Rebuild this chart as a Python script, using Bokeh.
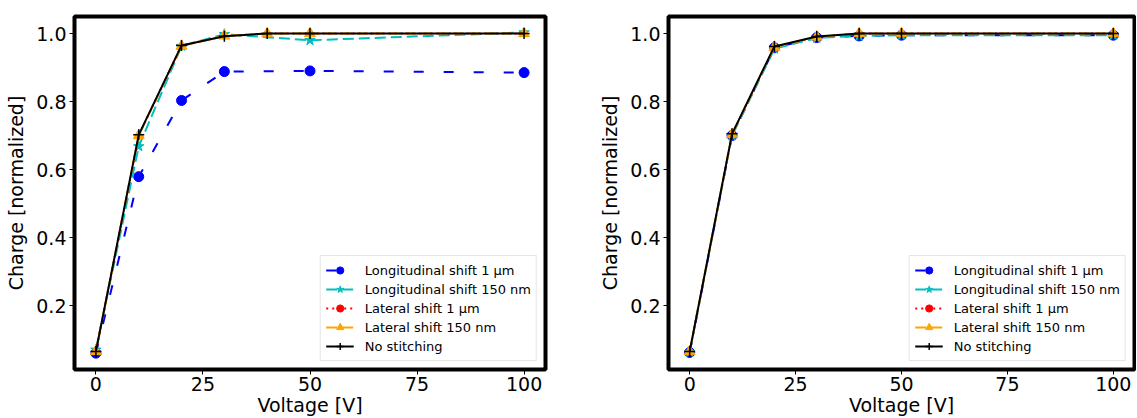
from bokeh.plotting import figure
from bokeh.models import Range1d, FixedTicker, Legend, PrintfTickFormatter
from bokeh.layouts import row
from bokeh.embed import file_html
from bokeh.resources import INLINE

# ---- data ----
voltage = [0, 10, 20, 30, 40, 50, 100]
voltage_long_left = [0, 10, 20, 30, 50, 100]

labels = ["Longitudinal shift 1 µm", "Longitudinal shift 150 nm",
          "Lateral shift 1 µm", "Lateral shift 150 nm", "No stitching"]

left_long1 = [0.060, 0.579, 0.803, 0.888, 0.890, 0.885]
left_long150 = [0.070, 0.668, 0.963, 0.998, 0.980, 1.003]
left_lat1 = [0.065, 0.700, 0.965, 0.992, 1.000, 1.000, 1.000]
left_lat150 = [0.065, 0.700, 0.963, 0.993, 1.000, 1.000, 1.000]
left_nostitch = [0.065, 0.702, 0.965, 0.992, 1.000, 1.000, 1.000]

right_long1 = [0.062, 0.700, 0.958, 0.988, 0.993, 0.995, 0.995]
right_long150 = [0.063, 0.700, 0.955, 0.987, 0.993, 0.995, 0.995]
right_lat1 = [0.065, 0.703, 0.960, 0.990, 1.000, 1.000, 1.000]
right_lat150 = [0.065, 0.703, 0.960, 0.990, 1.000, 1.000, 1.000]
right_nostitch = [0.065, 0.705, 0.962, 0.991, 1.000, 1.000, 1.000]

x_ticks = [0, 25, 50, 75, 100]
y_ticks = [0.2, 0.4, 0.6, 0.8, 1.0]

FONT = "DejaVu Sans"
CYAN = "#00bfbf"
ORANGE = "#ffa500"


def make_fig(width, mbl, mbr, series):
    p = figure(width=width, height=418, output_backend="svg", toolbar_location=None,
               x_range=Range1d(-5, 105), y_range=Range1d(0.012, 1.05),
               min_border_left=mbl, min_border_right=mbr, min_border_top=16,
               min_border_bottom=0)
    p.grid.visible = False
    p.outline_line_color = "black"
    p.outline_line_width = 4
    p.background_fill_color = "white"
    p.border_fill_color = "white"
    for ax in (p.xaxis[0], p.yaxis[0]):
        ax.axis_line_color = None
        ax.major_tick_in = 0
        ax.major_tick_out = 5
        ax.major_tick_line_width = 1
        ax.minor_tick_line_color = None
        ax.major_label_text_font = FONT
        ax.major_label_text_font_size = "19px"
        ax.major_label_text_color = "black"
        ax.axis_label_text_font = FONT
        ax.axis_label_text_font_size = "19px"
        ax.axis_label_text_font_style = "normal"
        ax.axis_label_text_color = "black"
    p.xaxis.ticker = FixedTicker(ticks=x_ticks)
    p.yaxis.ticker = FixedTicker(ticks=y_ticks)
    p.yaxis.formatter = PrintfTickFormatter(format="%.1f")
    p.xaxis.major_label_standoff = 2
    p.xaxis.axis_label_standoff = 0
    p.yaxis.major_label_standoff = 3
    p.yaxis.axis_label_standoff = 6
    p.xaxis.axis_label = "Voltage [V]"
    p.yaxis.axis_label = "Charge [normalized]"

    (xl, l1, l150, lat1, lat150, nos) = series
    items = []
    r1 = p.line(xl, l1, line_color="blue", line_width=2, line_dash="10 20")
    m1 = p.scatter(xl, l1, marker="circle", size=10, fill_color="blue", line_color="blue")
    items.append((labels[0], [r1, m1]))
    r2 = p.line(xl, l150, line_color=CYAN, line_width=2, line_dash="11 5")
    m2 = p.scatter(xl, l150, marker="star", size=11,
                   fill_color=CYAN, line_color=CYAN)
    items.append((labels[1], [r2, m2]))
    r3 = p.line(voltage, lat1, line_color="red", line_width=2, line_dash=[2, 4])
    m3 = p.scatter(voltage, lat1, marker="circle", size=5, fill_color="red", line_color="red")
    items.append((labels[2], [r3, m3]))
    r4 = p.line(voltage, lat150, line_color=ORANGE, line_width=2, line_dash="11 5")
    m4 = p.scatter(voltage, lat150, marker="triangle", size=11, fill_color=ORANGE,
                   line_color=ORANGE)
    items.append((labels[3], [r4, m4]))
    r5 = p.line(voltage, nos, line_color="black", line_width=2)
    m5 = p.scatter(voltage, nos, marker="cross", size=11, line_color="black", line_width=1.5)
    items.append((labels[4], [r5, m5]))

    legend = Legend(items=items, location="bottom_right",
                    label_text_font=FONT, label_text_font_size="13px",
                    label_text_color="black",
                    glyph_width=28, glyph_height=18, spacing=1,
                    label_standoff=11, padding=5, margin=8,
                    border_line_color="#cccccc", border_line_width=1,
                    background_fill_alpha=0.85)
    p.add_layout(legend)
    return p


p1 = make_fig(555, 74, 10, (voltage_long_left, left_long1, left_long150,
                            left_lat1, left_lat150, left_nostitch))
p2 = make_fig(581, 113, 2, (voltage, right_long1, right_long150,
                            right_lat1, right_lat150, right_nostitch))

layout = row(p1, p2)
open("out.html", "w").write(file_html(layout, INLINE))
